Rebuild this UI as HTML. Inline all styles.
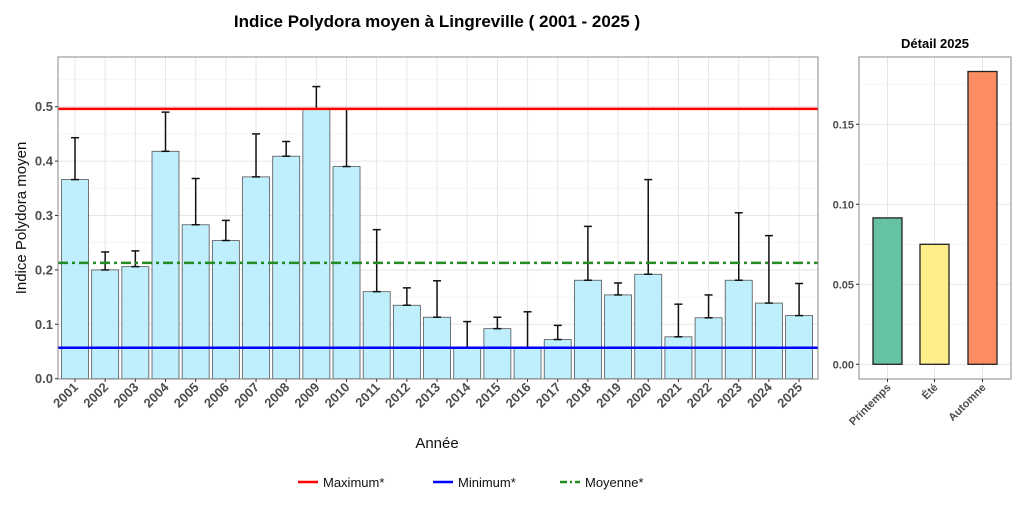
<!DOCTYPE html><html><head><meta charset="utf-8"><style>body{margin:0;background:#fff}svg{display:block;font-family:"Liberation Sans",sans-serif}</style></head><body>
<svg id="s" width="1024" height="512" xmlns="http://www.w3.org/2000/svg"></svg>
<script>
var s='';
function L(x1,y1,x2,y2,c,w,d){s+='<line x1="'+x1+'" y1="'+y1+'" x2="'+x2+'" y2="'+y2+'" stroke="'+c+'" stroke-width="'+w+'"'+(d?' stroke-dasharray="'+d+'"':'')+'/>';}
function T(x,y,t,o){s+='<text x="'+x+'" y="'+y+'" '+(o||'')+'>'+t+'</text>';}
var X0=58,X1=818,Y0=57,Y1=379;
function Y(v){return 378.7-v*544;}
function BX(i){return 75+i*30.17;}
var d=[[.366,.443],[.200,.233],[.206,.235],[.418,.490],[.283,.368],[.254,.291],[.371,.450],[.409,.436],[.496,.537],[.390,.496],[.160,.274],[.135,.167],[.113,.180],[.057,.105],[.092,.113],[.057,.123],[.072,.098],[.181,.280],[.154,.176],[.192,.366],[.077,.137],[.112,.154],[.181,.305],[.139,.263],[.116,.175]];
for(var v=0.05;v<0.6;v+=0.1)L(X0,Y(v),X1,Y(v),'#f0f0f0',0.6);
for(var v=0;v<0.6;v+=0.1)L(X0,Y(v),X1,Y(v),'#e6e6e6',1);
for(var i=0;i<25;i++)L(BX(i),Y0,BX(i),Y1,'#e6e6e6',1);
for(var i=0;i<25;i++){var x=BX(i);s+='<rect x="'+(x-13.5)+'" y="'+Y(d[i][0])+'" width="27" height="'+(378.7-Y(d[i][0]))+'" fill="#bfeefc" stroke="#555" stroke-width="0.8"/>';}
for(var i=0;i<25;i++){var x=BX(i);L(x,Y(d[i][0]),x,Y(d[i][1]),'#111',1.5);L(x-4,Y(d[i][1]),x+4,Y(d[i][1]),'#111',1.5);L(x-4,Y(d[i][0]),x+4,Y(d[i][0]),'#111',1.5);}
L(X0,Y(.496),X1,Y(.496),'#f00',2.5);L(X0,Y(.057),X1,Y(.057),'#00f',2.5);L(X0,Y(.213),X1,Y(.213),'#228b22',2.5,'10 4 3 4');
s+='<rect x="'+X0+'" y="'+Y0+'" width="'+(X1-X0)+'" height="'+(Y1-Y0)+'" fill="none" stroke="#888" stroke-width="1"/>';
for(var v=0;v<0.55;v+=0.1){L(X0-3,Y(v),X0,Y(v),'#333',1);T(X0-5,Y(v)+4.5,v.toFixed(1),'text-anchor="end" font-size="13" font-weight="bold" fill="#4d4d4d"');}
for(var i=0;i<25;i++){var x=BX(i);L(x,Y1,x,Y1+3,'#333',1);T(x+4,Y1+9,2001+i,'text-anchor="end" font-size="13" font-weight="bold" fill="#4d4d4d" transform="rotate(-45 '+(x+4)+' '+(Y1+9)+')"');}
T(437,27,'Indice Polydora moyen à Lingreville ( 2001 - 2025 )','text-anchor="middle" font-size="17" font-weight="bold" fill="#000"');
T(26,218,'Indice Polydora moyen','text-anchor="middle" font-size="15" fill="#111" transform="rotate(-90 26 218)"');
T(437,448,'Année','text-anchor="middle" font-size="15" fill="#111"');
L(298,482,318,482,'#f00',2.5);T(323,487,'Maximum*','font-size="13" fill="#111"');
L(433,482,453,482,'#00f',2.5);T(458,487,'Minimum*','font-size="13" fill="#111"');
L(560,482,580,482,'#228b22',2.5,'7 3 2 3');T(585,487,'Moyenne*','font-size="13" fill="#111"');
var A0=859,A1=1011;function Z(v){return 364.3-v*1600;}
for(var v=0.025;v<0.19;v+=0.05)L(A0,Z(v),A1,Z(v),'#f0f0f0',0.6);
for(var v=0;v<0.19;v+=0.05)L(A0,Z(v),A1,Z(v),'#e6e6e6',1);
var c=[[887.5,.0915,'#66c2a5','Printemps'],[934.5,.075,'#ffee8a','Été'],[982.5,.183,'#fc8d62','Automne']];
for(var i=0;i<3;i++)L(c[i][0],Y0,c[i][0],Y1,'#e6e6e6',1);
for(var i=0;i<3;i++){s+='<rect x="'+(c[i][0]-14.5)+'" y="'+Z(c[i][1])+'" width="29" height="'+(364.3-Z(c[i][1]))+'" fill="'+c[i][2]+'" stroke="#222" stroke-width="1.3"/>';}
s+='<rect x="'+A0+'" y="57" width="'+(A1-A0)+'" height="322" fill="none" stroke="#888" stroke-width="1"/>';
for(var v=0;v<0.19;v+=0.05){L(A0-3,Z(v),A0,Z(v),'#333',1);T(A0-5,Z(v)+4,v.toFixed(2),'text-anchor="end" font-size="11" font-weight="bold" fill="#4d4d4d"');}
for(var i=0;i<3;i++){var x=c[i][0];L(x,Y1,x,Y1+3,'#333',1);T(x+4,Y1+9,c[i][3],'text-anchor="end" font-size="11" font-weight="bold" fill="#4d4d4d" transform="rotate(-45 '+(x+4)+' '+(Y1+9)+')"');}
T(935,48,'Détail 2025','text-anchor="middle" font-size="13" font-weight="bold" fill="#000"');
document.getElementById('s').innerHTML=s;
</script></body></html>
